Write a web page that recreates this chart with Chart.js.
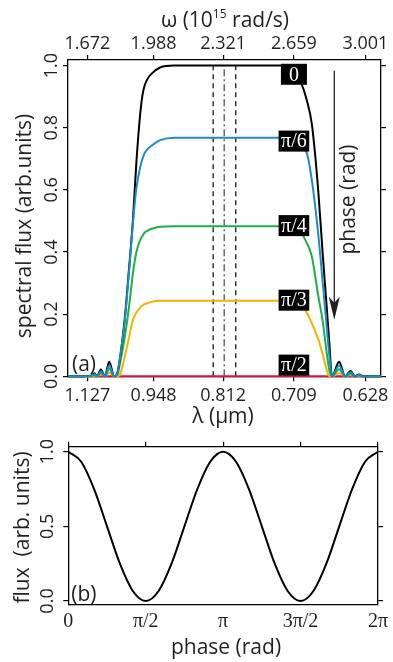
<!DOCTYPE html>
<html lang="en">
<head>
<meta charset="UTF-8">
<title>Spectral flux vs phase</title>
<script src="https://cdn.jsdelivr.net/npm/chart.js"></script>
<style>
  html, body { margin: 0; padding: 0; background: #fff; }
  body { width: 393px; height: 662px; position: relative; overflow: hidden; }
  .panel { position: absolute; left: 0; width: 393px; }
  #topPanel { top: 0; height: 432px; }
  #botPanel { top: 432px; height: 230px; }
</style>
</head>
<body>
<div class="panel" id="topPanel"><canvas id="specChart"></canvas></div>
<div class="panel" id="botPanel"><canvas id="fluxChart"></canvas></div>
<script>
// ---- panel (a) : spectral flux vs omega (10^15 rad/s) ----
var omega = [1.579, 1.690, 1.705, 1.718, 1.736, 1.755, 1.776, 1.800, 1.815, 1.830,
             1.849, 1.870, 1.889, 1.906, 1.925, 1.935, 1.945, 1.960, 1.980, 2.020,
             2.085, 2.300, 2.600, 2.650, 2.690, 2.720, 2.745, 2.775, 2.797, 2.815,
             2.828, 2.841, 2.875, 2.904, 2.930, 2.951, 2.970, 2.990, 3.075];
var flux0   = [0, 0.002, 0.010, 0, 0.022, 0, 0.047, 0, 0.012, 0.07,
               0.176, 0.34, 0.50, 0.69, 0.85, 0.905, 0.935, 0.958, 0.975, 0.994,
               1.0, 1.0, 1.0, 0.99, 0.95, 0.89, 0.81, 0.60, 0.39, 0.23,
               0.11, 0, 0.047, 0, 0.017, 0, 0.006, 0, 0];
var fluxPi6 = [0, 0.001, 0.007, 0, 0.016, 0, 0.035, 0, 0.01, 0.07,
               0.17, 0.33, 0.49, 0.606, 0.675, 0.70, 0.718, 0.732, 0.743, 0.760,
               0.768, 0.768, 0.768, 0.762, 0.74, 0.72, 0.63, 0.46, 0.30, 0.165,
               0.07, 0, 0.035, 0, 0.013, 0, 0.004, 0, 0];
var fluxPi4 = [0, 0.001, 0.005, 0, 0.011, 0, 0.024, 0, 0.005, 0.05,
               0.12, 0.22, 0.33, 0.40, 0.44, 0.452, 0.462, 0.469, 0.475, 0.481,
               0.483, 0.483, 0.483, 0.48, 0.465, 0.43, 0.385, 0.26, 0.176, 0.08,
               0.02, 0, 0.023, 0, 0.008, 0, 0.003, 0, 0];
var fluxPi3 = [0, 0, 0.002, 0, 0.006, 0, 0.012, 0, 0, 0.01,
               0.06, 0.123, 0.18, 0.205, 0.222, 0.228, 0.232, 0.236, 0.24, 0.243,
               0.243, 0.243, 0.243, 0.241, 0.232, 0.205, 0.17, 0.12, 0.07, 0.022,
               0, 0, 0.011, 0, 0.004, 0, 0.0015, 0, 0];
var fluxPi2 = [0, 0, 0, 0, 0, 0, 0, 0, 0, 0,
               0, 0, 0, 0, 0, 0, 0, 0, 0, 0,
               0, 0, 0, 0, 0, 0, 0, 0, 0, 0,
               0, 0, 0, 0, 0, 0, 0, 0, 0];

var omegaTicks   = [1.672, 1.988, 2.321, 2.659, 3.001];
var omegaLabels  = ['1.672', '1.988', '2.321', '2.659', '3.001'];
var lambdaLabels = ['1.127', '0.948', '0.812', '0.709', '0.628'];
var specTicks    = [0, 0.2, 0.4, 0.6, 0.8, 1.0];
var specTickLabels = ['0.0', '0.2', '0.4', '0.6', '0.8', '1.0'];

var markerOmega = [2.273, 2.326, 2.381];   // dashed / dash-dot / dashed
var markerTop = 1.0;

var phaseNames  = ['0', 'π/6', 'π/4', 'π/3', 'π/2'];
var phaseLabelY = [0.972, 0.757, 0.485, 0.245, 0.036];
var phaseLabelOmega = 2.659;
var arrowOmega = 2.852;
var arrowY = [0.983, 0.182];

// ---- panel (b) : flux vs phase (units of pi) ----
var phase = [0, 0.0833, 0.1667, 0.25, 0.3333, 0.4167, 0.5, 0.5833, 0.6667, 0.75, 0.8333, 0.9167,
             1, 1.0833, 1.1667, 1.25, 1.3333, 1.4167, 1.5, 1.5833, 1.6667, 1.75, 1.8333, 1.9167, 2];
var phaseFlux = [1.0, 0.933, 0.75, 0.5, 0.25, 0.067, 0.0, 0.067, 0.25, 0.5, 0.75, 0.933,
                 1.0, 0.933, 0.75, 0.5, 0.25, 0.067, 0.0, 0.067, 0.25, 0.5, 0.75, 0.933, 1.0];
var phaseTicks = [0, 0.5, 1, 1.5, 2];
var phaseTickLabels = ['0', 'π/2', 'π', '3π/2', '2π'];
var phaseFluxTicks = [0, 0.5, 1.0];
var phaseFluxLabels = ['0.0', '0.5', '1.0'];

var SANS = '"Open Sans", sans-serif';
var SERIF = '"Liberation Serif", serif';
var INK = '#231f20';

function pts(xs, ys) {
    return xs.map(function (x, i) { return { x: x, y: ys[i] }; });
}

function curve(label, data, color) {
    return {
        label: label,
        data: pts(omega, data),
        borderColor: color,
        borderWidth: 2,
        pointRadius: 0,
        cubicInterpolationMode: 'monotone',
        clip: { left: 0, right: 0, top: 0, bottom: 3 },
        fill: false
    };
}

function vline(w, color, dash, width) {
    return {
        data: [{ x: w, y: 0 }, { x: w, y: markerTop }],
        borderColor: color,
        borderWidth: width,
        borderDash: dash,
        pointRadius: 0,
        fill: false
    };
}

function setTicks(list) {
    return function (scale) {
        scale.ticks = list.map(function (v) { return { value: v }; });
    };
}

function frameAxis(extra) {
    var base = {
        border: { display: true, color: '#000', width: 1.3 },
        grid: { display: true, drawOnChartArea: false, drawTicks: true, tickLength: 5, color: '#000', lineWidth: 1.2 }
    };
    return Object.assign(base, extra);
}

// y tick labels are rotated (read bottom to top), so they are drawn here
function drawRotatedTicks(chart, values, labels, cx) {
    var ctx = chart.ctx, ys = chart.scales.y;
    ctx.save();
    ctx.fillStyle = INK;
    ctx.font = '18px ' + SANS;
    ctx.textAlign = 'center';
    ctx.textBaseline = 'middle';
    values.forEach(function (v, i) {
        ctx.save();
        ctx.translate(cx, ys.getPixelForValue(v));
        ctx.rotate(-Math.PI / 2);
        ctx.fillText(labels[i], 0, 0);
        ctx.restore();
    });
    ctx.restore();
}

Chart.defaults.font.family = SANS;
Chart.defaults.color = INK;

// ---------- top chart ----------
var specDecor = {
    id: 'specDecor',
    afterDatasetsDraw: function (chart) {
        var ctx = chart.ctx, xs = chart.scales.x, ys = chart.scales.y, a = chart.chartArea;
        ctx.save();
        // phase labels in black boxes
        ctx.font = '20px ' + SERIF;
        ctx.textAlign = 'center';
        ctx.textBaseline = 'middle';
        var cx = xs.getPixelForValue(phaseLabelOmega);
        phaseNames.forEach(function (t, i) {
            var cy = ys.getPixelForValue(phaseLabelY[i]);
            var w = Math.max(ctx.measureText(t).width + 5, 26);
            ctx.fillStyle = '#000';
            ctx.fillRect(cx - w / 2, cy - 10.5, w, 21);
            ctx.fillStyle = '#fff';
            ctx.fillText(t, cx, cy + 1);
        });
        // arrow
        var ax = xs.getPixelForValue(arrowOmega);
        var y0 = ys.getPixelForValue(arrowY[0]);
        var y1 = ys.getPixelForValue(arrowY[1]);
        ctx.strokeStyle = INK;
        ctx.lineWidth = 1.3;
        ctx.beginPath();
        ctx.moveTo(ax, y0);
        ctx.lineTo(ax, y1 - 12);
        ctx.stroke();
        ctx.fillStyle = INK;
        ctx.beginPath();
        ctx.moveTo(ax, y1);
        ctx.lineTo(ax - 5.5, y1 - 23);
        ctx.lineTo(ax, y1 - 17);
        ctx.lineTo(ax + 5.5, y1 - 23);
        ctx.closePath();
        ctx.fill();
        // "phase (rad)"
        ctx.save();
        ctx.translate(ax + 15, ys.getPixelForValue(0.569));
        ctx.rotate(-Math.PI / 2);
        ctx.font = '21px ' + SANS;
        ctx.fillText('phase (rad)', 0, 0);
        ctx.restore();
        // (a)
        ctx.font = '21px ' + SANS;
        ctx.textAlign = 'left';
        ctx.fillText('(a)', a.left + 4, a.bottom - 11);
        ctx.restore();
    },
    afterDraw: function (chart) {
        var ctx = chart.ctx;
        drawRotatedTicks(chart, specTicks, specTickLabels, 51.5);
        ctx.save();
        ctx.fillStyle = INK;
        ctx.textBaseline = 'alphabetic';
        // omega title with superscript
        var big = '21px ' + SANS, small = '12px ' + SANS;
        ctx.font = big;
        var p1 = 'ω (10', p3 = ' rad/s)';
        var w1 = ctx.measureText(p1).width, w3 = ctx.measureText(p3).width;
        ctx.font = small;
        var w2 = ctx.measureText('15').width;
        var x = 225 - (w1 + w2 + w3) / 2;
        ctx.font = big;
        ctx.textAlign = 'left';
        ctx.fillText(p1, x, 27);
        ctx.font = small;
        ctx.fillText('15', x + w1, 18);
        ctx.font = big;
        ctx.fillText(p3, x + w1 + w2, 27);
        // lambda title
        ctx.textAlign = 'center';
        ctx.fillText('λ (μm)', 223, 423);
        // y title
        ctx.save();
        ctx.translate(25, 226);
        ctx.rotate(-Math.PI / 2);
        ctx.textBaseline = 'middle';
        ctx.fillText('spectral flux (arb.units)', 0, 0);
        ctx.restore();
        ctx.restore();
    }
};

new Chart(document.getElementById('specChart'), {
    type: 'line',
    data: {
        datasets: [
            curve('π/6', fluxPi6, '#1a8cc8'),
            curve('0', flux0, '#000000'),
            curve('π/4', fluxPi4, '#1db045'),
            curve('π/3', fluxPi3, '#f0b400'),
            curve('π/2', fluxPi2, '#e0103c'),
            vline(markerOmega[0], '#000', [5, 4], 1.2),
            vline(markerOmega[1], '#6e6e6e', [7, 3, 2, 3], 1.6),
            vline(markerOmega[2], '#000', [5, 4], 1.2)
        ]
    },
    options: {
        responsive: true,
        maintainAspectRatio: false,
        animation: false,
        layout: { padding: 0 },
        plugins: { legend: { display: false }, tooltip: { enabled: false } },
        scales: {
            x: frameAxis({
                type: 'linear', position: 'bottom', min: 1.579, max: 3.075,
                afterBuildTicks: setTicks(omegaTicks),
                afterFit: function (s) { s.height = 432 - 376.3; },
                ticks: {
                    autoSkip: false, maxRotation: 0, padding: 4,
                    font: { size: 18 },
                    callback: function (v, i) { return lambdaLabels[i]; }
                }
            }),
            x2: frameAxis({
                type: 'linear', position: 'top', min: 1.579, max: 3.075,
                afterBuildTicks: setTicks(omegaTicks),
                afterFit: function (s) { s.height = 60; },
                ticks: {
                    autoSkip: false, maxRotation: 0, padding: 0,
                    font: { size: 18 },
                    callback: function (v, i) { return omegaLabels[i]; }
                }
            }),
            y: frameAxis({
                type: 'linear', position: 'left', min: 0, max: 1.018,
                afterBuildTicks: setTicks(specTicks),
                afterFit: function (s) { s.width = 68; },
                ticks: { display: false }
            }),
            y2: frameAxis({
                type: 'linear', position: 'right', min: 0, max: 1.018,
                afterBuildTicks: setTicks(specTicks),
                afterFit: function (s) { s.width = 393 - 385.7; },
                ticks: { display: false }
            })
        }
    },
    plugins: [specDecor]
});

// ---------- bottom chart ----------
var fluxDecor = {
    id: 'fluxDecor',
    afterDraw: function (chart) {
        var ctx = chart.ctx, a = chart.chartArea;
        drawRotatedTicks(chart, phaseFluxTicks, phaseFluxLabels, 48);
        ctx.save();
        ctx.fillStyle = INK;
        ctx.font = '21px ' + SANS;
        ctx.textBaseline = 'middle';
        ctx.textAlign = 'left';
        ctx.fillText('(b)', a.left + 3, 163);
        ctx.textAlign = 'center';
        ctx.fillText('phase (rad)', 226, 216);
        ctx.save();
        ctx.translate(23, 95.5);
        ctx.rotate(-Math.PI / 2);
        ctx.fillText('flux  (arb. units)', 0, 0);
        ctx.restore();
        ctx.restore();
    }
};

new Chart(document.getElementById('fluxChart'), {
    type: 'line',
    data: {
        datasets: [{
            data: pts(phase, phaseFlux),
            borderColor: '#000',
            borderWidth: 2,
            pointRadius: 0,
            cubicInterpolationMode: 'monotone',
            fill: false
        }]
    },
    options: {
        responsive: true,
        maintainAspectRatio: false,
        animation: false,
        layout: { padding: 0 },
        plugins: { legend: { display: false }, tooltip: { enabled: false } },
        scales: {
            x: frameAxis({
                type: 'linear', position: 'bottom', min: 0, max: 2,
                afterBuildTicks: setTicks(phaseTicks),
                afterFit: function (s) { s.height = 230 - 173; },
                grid: { display: true, drawOnChartArea: false, drawTicks: false, color: '#000' },
                ticks: {
                    autoSkip: false, maxRotation: 0, padding: 5,
                    font: { size: 20, family: SERIF },
                    callback: function (v, i) { return phaseTickLabels[i]; }
                }
            }),
            x2: frameAxis({
                type: 'linear', position: 'top', min: 0, max: 2,
                afterBuildTicks: setTicks(phaseTicks),
                afterFit: function (s) { s.height = 446.7 - 432; },
                ticks: { display: false }
            }),
            y: frameAxis({
                type: 'linear', position: 'left', min: -0.027, max: 1.0335,
                afterBuildTicks: setTicks(phaseFluxTicks),
                afterFit: function (s) { s.width = 68.3; },
                ticks: { display: false }
            }),
            y2: frameAxis({
                type: 'linear', position: 'right', min: -0.027, max: 1.0335,
                afterBuildTicks: setTicks(phaseFluxTicks),
                afterFit: function (s) { s.width = 393 - 385; },
                ticks: { display: false }
            })
        }
    },
    plugins: [fluxDecor]
});
</script>
</body>
</html>
